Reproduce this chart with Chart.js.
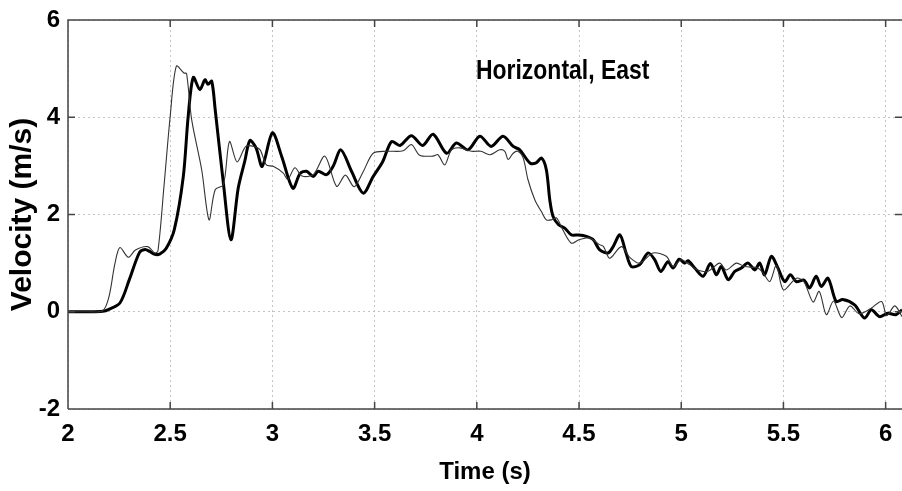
<!DOCTYPE html>
<html>
<head>
<meta charset="utf-8">
<script src="https://cdn.jsdelivr.net/npm/chart.js@4.4.1/dist/chart.umd.min.js"></script>
<style>
  html, body { margin: 0; padding: 0; background: #fff; }
  #wrap { width: 902px; height: 491px; }
</style>
</head>
<body>
<div id="wrap"><canvas id="chart" width="902" height="491"></canvas></div>
<script>
// thick trace
const timeThick = [2.00, 2.10, 2.17, 2.20, 2.254, 2.30, 2.35, 2.377, 2.40, 2.425, 2.45, 2.48, 2.52, 2.564, 2.588,
    2.613, 2.645, 2.67, 2.685, 2.703, 2.72, 2.76, 2.797, 2.833, 2.865, 2.89, 2.92, 2.95, 3.00, 3.045,
    3.10, 3.135, 3.167, 3.20, 3.224, 3.265, 3.297, 3.335, 3.387, 3.444, 3.493, 3.54, 3.583, 3.624, 3.68,
    3.735, 3.786, 3.852, 3.90, 3.957, 4.015, 4.07, 4.128, 4.178, 4.21, 4.26, 4.29, 4.316, 4.34, 4.357,
    4.373, 4.40, 4.43, 4.463, 4.50, 4.536, 4.57, 4.60, 4.642, 4.667, 4.70, 4.73, 4.756, 4.797, 4.838,
    4.87, 4.90, 4.935, 4.96, 4.99, 5.017, 5.033, 5.066, 5.107, 5.143, 5.172, 5.196, 5.23, 5.262, 5.294,
    5.327, 5.36, 5.384, 5.408, 5.441, 5.473, 5.506, 5.534, 5.563, 5.60, 5.628, 5.66, 5.685, 5.718, 5.758,
    5.79, 5.848, 5.897, 5.93, 5.97, 6.01, 6.05, 6.08];
const velThick = [0, 0, 0.01, 0.05, 0.18, 0.66, 1.22, 1.28, 1.24, 1.18, 1.19, 1.30, 1.69, 2.78, 4.02,
    4.82, 4.57, 4.77, 4.68, 4.74, 4.16, 2.65, 1.48, 2.55, 3.10, 3.52, 3.37, 2.99, 3.68, 3.20,
    2.54, 2.84, 2.89, 2.78, 2.89, 2.82, 2.99, 3.33, 2.89, 2.44, 2.78, 3.09, 3.50, 3.42, 3.62,
    3.42, 3.65, 3.26, 3.47, 3.33, 3.61, 3.40, 3.61, 3.40, 3.33, 3.06, 3.06, 3.16, 2.92, 2.30,
    1.96, 1.79, 1.72, 1.58, 1.58, 1.55, 1.48, 1.28, 1.21, 1.34, 1.58, 1.21, 0.93, 0.97, 1.21,
    1.07, 0.83, 1.03, 0.90, 1.08, 1.00, 1.05, 0.90, 0.73, 0.99, 0.76, 0.93, 0.66, 0.83, 0.90,
    1.00, 0.86, 1.00, 0.76, 1.14, 0.90, 0.62, 0.76, 0.62, 0.65, 0.49, 0.73, 0.52, 0.69, 0.21,
    0.25, 0.14, -0.13, 0.04, -0.10, -0.03, -0.06, 0.04];

// thin trace
const timeThin = [2.00, 2.10, 2.17, 2.20, 2.23, 2.254, 2.295, 2.33, 2.39, 2.425, 2.44, 2.47, 2.50, 2.53, 2.567,
    2.58, 2.605, 2.654, 2.69, 2.72, 2.76, 2.79, 2.827, 2.87, 2.91, 2.94, 2.97, 3.004, 3.053, 3.075,
    3.11, 3.145, 3.20, 3.257, 3.314, 3.357, 3.40, 3.444, 3.493, 3.558, 3.64, 3.68, 3.72, 3.786, 3.81,
    3.843, 3.876, 3.917, 3.974, 4.02, 4.064, 4.112, 4.137, 4.153, 4.178, 4.20, 4.227, 4.25, 4.284, 4.316,
    4.34, 4.365, 4.39, 4.42, 4.463, 4.50, 4.55, 4.60, 4.62, 4.65, 4.707, 4.748, 4.797, 4.862, 4.927,
    4.96, 5.00, 5.04, 5.08, 5.13, 5.188, 5.22, 5.27, 5.31, 5.375, 5.40, 5.433, 5.465, 5.50, 5.563,
    5.60, 5.645, 5.675, 5.71, 5.745, 5.785, 5.825, 5.87, 5.925, 5.98, 6.005, 6.045, 6.08];
const velThin = [0, 0, 0.02, 0.30, 1.00, 1.32, 1.12, 1.27, 1.34, 1.21, 1.25, 2.60, 4.02, 5.05, 4.91,
    4.90, 3.95, 2.92, 1.89, 2.51, 2.61, 3.50, 3.08, 3.40, 3.40, 3.33, 3.02, 2.99, 2.85, 2.72,
    2.96, 2.79, 2.82, 3.20, 2.58, 2.81, 2.57, 2.88, 3.26, 3.30, 3.31, 3.44, 3.22, 3.20, 3.23,
    3.02, 3.33, 3.37, 3.30, 3.30, 3.23, 3.33, 3.30, 3.13, 3.26, 3.30, 3.16, 2.72, 2.30, 2.06,
    1.89, 1.89, 1.93, 1.69, 1.41, 1.48, 1.52, 1.38, 1.34, 1.10, 1.34, 1.12, 1.00, 1.21, 1.14,
    0.93, 1.07, 0.97, 0.86, 0.83, 1.00, 0.86, 1.00, 0.93, 0.90, 0.80, 0.62, 0.95, 0.45, 0.69,
    0.62, 0.20, 0.42, -0.06, 0.22, -0.12, 0.12, -0.04, 0.06, 0.21, -0.08, 0.12, -0.10];

const xTicks = [2, 2.5, 3, 3.5, 4, 4.5, 5, 5.5, 6];
const yTicks = [-2, 0, 2, 4, 6];
const plotTitle = "Horizontal, East";

const font = "'Liberation Sans', Arial, sans-serif";

function toPoints(xs, ys) {
    return xs.map((x, i) => ({ x: x, y: ys[i] }));
}

// MATLAB style frame: inward ticks on all four sides, box, title inside axes
const framePlugin = {
    id: "frame",
    afterDatasetsDraw(chart) {
        const { ctx, chartArea: a, scales } = chart;
        const len = 7;
        ctx.save();
        ctx.strokeStyle = "#444";
        ctx.lineWidth = 1.5;
        ctx.beginPath();
        ctx.moveTo(a.left, a.bottom);
        ctx.lineTo(a.left, a.top);
        ctx.lineTo(a.right, a.top);
        ctx.moveTo(a.left, a.bottom);
        ctx.lineTo(a.right, a.bottom);
        xTicks.forEach(v => {
            const px = scales.x.getPixelForValue(v);
            ctx.moveTo(px, a.bottom); ctx.lineTo(px, a.bottom - len);
            ctx.moveTo(px, a.top); ctx.lineTo(px, a.top + len);
        });
        yTicks.forEach(v => {
            const py = scales.y.getPixelForValue(v);
            ctx.moveTo(a.left, py); ctx.lineTo(a.left + len, py);
            ctx.moveTo(a.right, py); ctx.lineTo(a.right - len, py);
        });
        ctx.stroke();

        // title sits inside the axes, squeezed a bit like the original
        const tx = scales.x.getPixelForValue(4.42);
        const ty = scales.y.getPixelForValue(4.95);
        ctx.translate(tx, ty);
        ctx.scale(0.82, 1);
        ctx.fillStyle = "#000";
        ctx.font = "bold 28px " + font;
        ctx.textAlign = "center";
        ctx.textBaseline = "middle";
        ctx.fillText(plotTitle, 0, 0);
        ctx.restore();
    }
};

const ctx = document.getElementById("chart");

const graph = new Chart(ctx, {
    type: "line",
    data: {
        datasets: [
            {
                label: "thin",
                data: toPoints(timeThin, velThin),
                borderColor: "#333",
                borderWidth: 1.1,
                pointRadius: 0,
                tension: 0.3
            },
            {
                label: "thick",
                data: toPoints(timeThick, velThick),
                borderColor: "#000",
                borderWidth: 3,
                pointRadius: 0,
                tension: 0.3
            }
        ]
    },
    options: {
        responsive: false,
        animation: false,
        layout: {
            padding: { top: 20, right: 0, left: 0, bottom: 0 }
        },
        scales: {
            x: {
                type: "linear",
                min: 2,
                max: 6.08,
                afterFit: function(scale) {
                    scale.height = 82;
                    scale.paddingLeft = 0;
                    scale.paddingRight = 0;
                },
                afterBuildTicks: function(scale) {
                    scale.ticks = xTicks.map(v => ({ value: v }));
                },
                border: { display: false, dash: [2, 3] },
                grid: {
                    color: "#c4c4c4",
                    lineWidth: 1,
                    drawTicks: false
                },
                ticks: {
                    padding: 11,
                    color: "#000",
                    maxRotation: 0,
                    callback: function(value) { return String(value); },
                    font: { family: font, weight: "bold", size: 24 }
                },
                title: {
                    display: true,
                    text: "Time (s)",
                    color: "#000",
                    padding: { top: 4, bottom: 4 },
                    font: { family: font, weight: "bold", size: 24 }
                }
            },
            y: {
                min: -2,
                max: 6,
                afterFit: function(scale) {
                    scale.width = 68;
                    scale.paddingTop = 0;
                    scale.paddingBottom = 0;
                },
                afterBuildTicks: function(scale) {
                    scale.ticks = yTicks.map(v => ({ value: v }));
                },
                border: { display: false, dash: [2, 3] },
                grid: {
                    color: "#c4c4c4",
                    lineWidth: 1,
                    drawTicks: false
                },
                ticks: {
                    padding: 8,
                    color: "#000",
                    font: { family: font, weight: "bold", size: 24 }
                },
                title: {
                    display: true,
                    text: "Velocity (m/s)",
                    color: "#000",
                    padding: { top: 5, bottom: 5 },
                    font: { family: font, weight: "bold", size: 30 }
                }
            }
        },
        plugins: {
            legend: { display: false },
            tooltip: { enabled: false }
        }
    },
    plugins: [framePlugin]
});
</script>
</body>
</html>
